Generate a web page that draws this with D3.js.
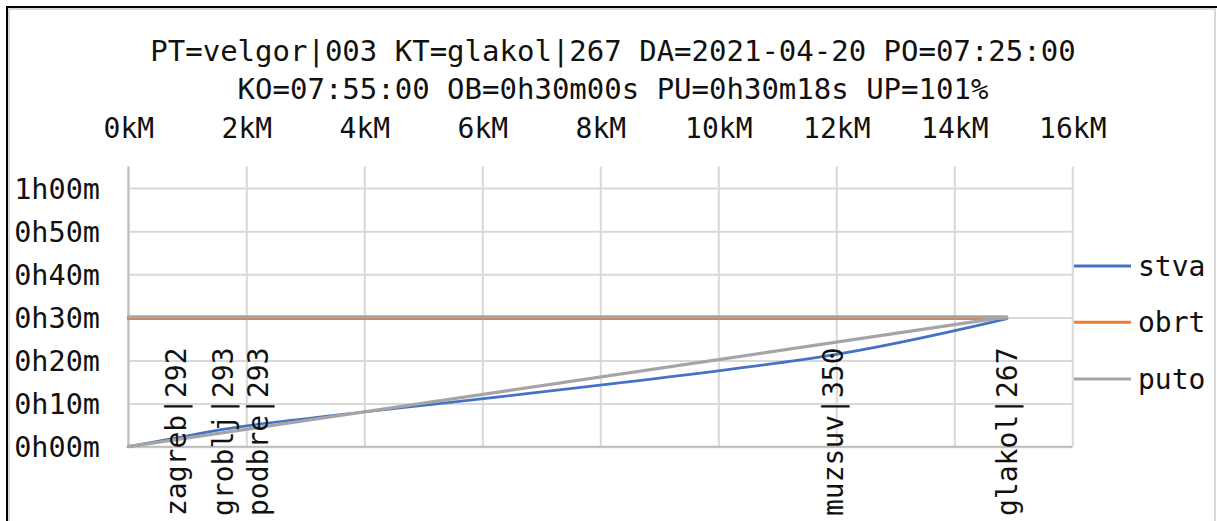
<!DOCTYPE html>
<html>
<head>
<meta charset="utf-8">
<script src="https://cdn.jsdelivr.net/npm/d3@7"></script>
<style>
    body { margin: 0; background: #fff; }
    text { font-family: "DejaVu Sans Mono", monospace; fill: #111; }
</style>
</head>
<body>
<svg id="chart"></svg>
<script>
// title lines
const titleLines = [
    "PT=velgor|003 KT=glakol|267 DA=2021-04-20 PO=07:25:00",
    "KO=07:55:00 OB=0h30m00s PU=0h30m18s UP=101%"
];

// stops along the route (km) with labels
const stopNames = ["zagreb|292", "groblj|293", "podbre|293", "muzsuv|350", "glakol|267"];
const stopKm = [0.8, 1.6, 2.2, 11.95, 14.89];

// series: actual (stva), scheduled (obrt), path (puto), minutes
const stvaKm = [0, 0.8, 1.6, 2.2, 11.95, 14.89];
const stvaMin = [0, 2.0, 4.0, 5.2, 21.3, 29.7];
const obrtKm = [0, 14.89];
const obrtMin = [29.75, 29.75];
const putoKm = [0, 14.89, 0];
const putoMin = [0, 30.1, 30.1];

const xTicks = [0, 2, 4, 6, 8, 10, 12, 14, 16];
const yTicks = [0, 10, 20, 30, 40, 50, 60];
const yTickLabels = ["0h00m", "0h10m", "0h20m", "0h30m", "0h40m", "0h50m", "1h00m"];

const seriesNames = ["stva", "obrt", "puto"];
const seriesColors = ["#4472C4", "#ED7D31", "#A5A5A5"];
const seriesWidths = [2.7, 3, 3.3];

const totalWidth = 1217,
    totalHeight = 521;

const svg = d3.select("#chart")
    .attr("width", totalWidth)
    .attr("height", totalHeight);

// frame
svg.append("rect")
    .attr("x", 9).attr("y", 9)
    .attr("width", 1206).attr("height", 520)
    .attr("fill", "none")
    .attr("stroke", "#D9D9D9")
    .attr("stroke-width", 2);
svg.append("path")
    .attr("d", "M7,521 L7,7 L1217,7")
    .attr("fill", "none")
    .attr("stroke", "#000")
    .attr("stroke-width", 2);

const x = d3.scaleLinear().domain([0, 16]).range([128.3, 1072.3]);
const y = d3.scaleLinear().domain([0, 65]).range([446.7, 166.5]);

// title
svg.selectAll(".title")
    .data(titleLines)
    .enter()
    .append("text")
    .attr("class", "title")
    .attr("x", 613)
    .attr("y", (d, i) => 61 + i * 38)
    .attr("text-anchor", "middle")
    .style("font-size", "29px")
    .text(d => d);

// grid lines
svg.append("g")
    .attr("class", "grid grid-x")
    .attr("transform", "translate(0," + y(0) + ")")
    .call(d3.axisBottom(x).tickValues(xTicks).tickSize(-(y(0) - y(65))).tickFormat(""))
    .call(g => g.select(".domain").remove())
    .call(g => g.selectAll("line").attr("stroke", "#D9D9D9").attr("stroke-width", 2));

svg.append("g")
    .attr("class", "grid grid-y")
    .attr("transform", "translate(" + x(0) + ",0)")
    .call(d3.axisLeft(y).tickValues(yTicks).tickSize(-(x(16) - x(0))).tickFormat(""))
    .call(g => g.select(".domain").remove())
    .call(g => g.selectAll("line").attr("stroke", "#D9D9D9").attr("stroke-width", 2));

// axis lines
svg.append("line")
    .attr("x1", x(0)).attr("x2", x(0))
    .attr("y1", y(65)).attr("y2", y(0))
    .attr("stroke", "#BFBFBF").attr("stroke-width", 2);
svg.append("line")
    .attr("x1", x(0)).attr("x2", x(16))
    .attr("y1", y(0)).attr("y2", y(0))
    .attr("stroke", "#BFBFBF").attr("stroke-width", 2);

// x labels on top
svg.append("g")
    .attr("class", "axis axis-x")
    .attr("transform", "translate(0,138)")
    .call(d3.axisTop(x).tickValues(xTicks).tickSize(0).tickPadding(0).tickFormat(d => d + "kM"))
    .call(g => g.select(".domain").remove())
    .call(g => g.selectAll("text")
        .attr("fill", "#111")
        .attr("dy", 0)
        .style("font-size", "28px")
        .style("font-family", "DejaVu Sans Mono, monospace"));

// y labels
svg.append("g")
    .attr("class", "axis axis-y")
    .attr("transform", "translate(100,0)")
    .call(d3.axisLeft(y).tickValues(yTicks).tickSize(0).tickPadding(0)
        .tickFormat((d, i) => yTickLabels[i]))
    .call(g => g.select(".domain").remove())
    .call(g => g.selectAll("text")
        .attr("fill", "#111")
        .attr("dy", "0.36em")
        .style("font-size", "28.5px")
        .style("font-family", "DejaVu Sans Mono, monospace"));

// series
const toPoints = (kms, mins) => kms.map((k, i) => ({ km: k, min: mins[i] }));
const series = [
    { id: "stva", values: toPoints(stvaKm, stvaMin), curve: d3.curveCatmullRom.alpha(0.5) },
    { id: "obrt", values: toPoints(obrtKm, obrtMin), curve: d3.curveLinear },
    { id: "puto", values: toPoints(putoKm, putoMin), curve: d3.curveLinear }
];

series.forEach((s, i) => {
    const line = d3.line()
        .curve(s.curve)
        .x(d => x(d.km))
        .y(d => y(d.min));
    svg.append("path")
        .attr("class", "graph-line")
        .attr("d", line(s.values))
        .attr("fill", "none")
        .attr("stroke", seriesColors[i])
        .attr("stroke-width", seriesWidths[i])
        .attr("stroke-linejoin", "round")
        .attr("stroke-linecap", "round");
});

// stop labels, rotated
svg.selectAll(".stop-label")
    .data(stopNames)
    .enter()
    .append("text")
    .attr("class", "stop-label")
    .attr("transform", (d, i) => "translate(" + x(stopKm[i]) + ",516) rotate(-90)")
    .attr("dy", "0.36em")
    .style("font-size", "28px")
    .text(d => d);

// legend
const legendY = [266, 322.3, 379];
const legend = svg.selectAll(".legend")
    .data(seriesNames)
    .enter()
    .append("g")
    .attr("class", "legend")
    .attr("transform", (d, i) => "translate(0," + legendY[i] + ")");
legend.append("line")
    .attr("x1", 1074).attr("x2", 1131)
    .attr("stroke", (d, i) => seriesColors[i])
    .attr("stroke-width", 3);
legend.append("text")
    .attr("x", 1138)
    .attr("dy", "0.36em")
    .style("font-size", "28px")
    .text(d => d);
</script>
</body>
</html>
